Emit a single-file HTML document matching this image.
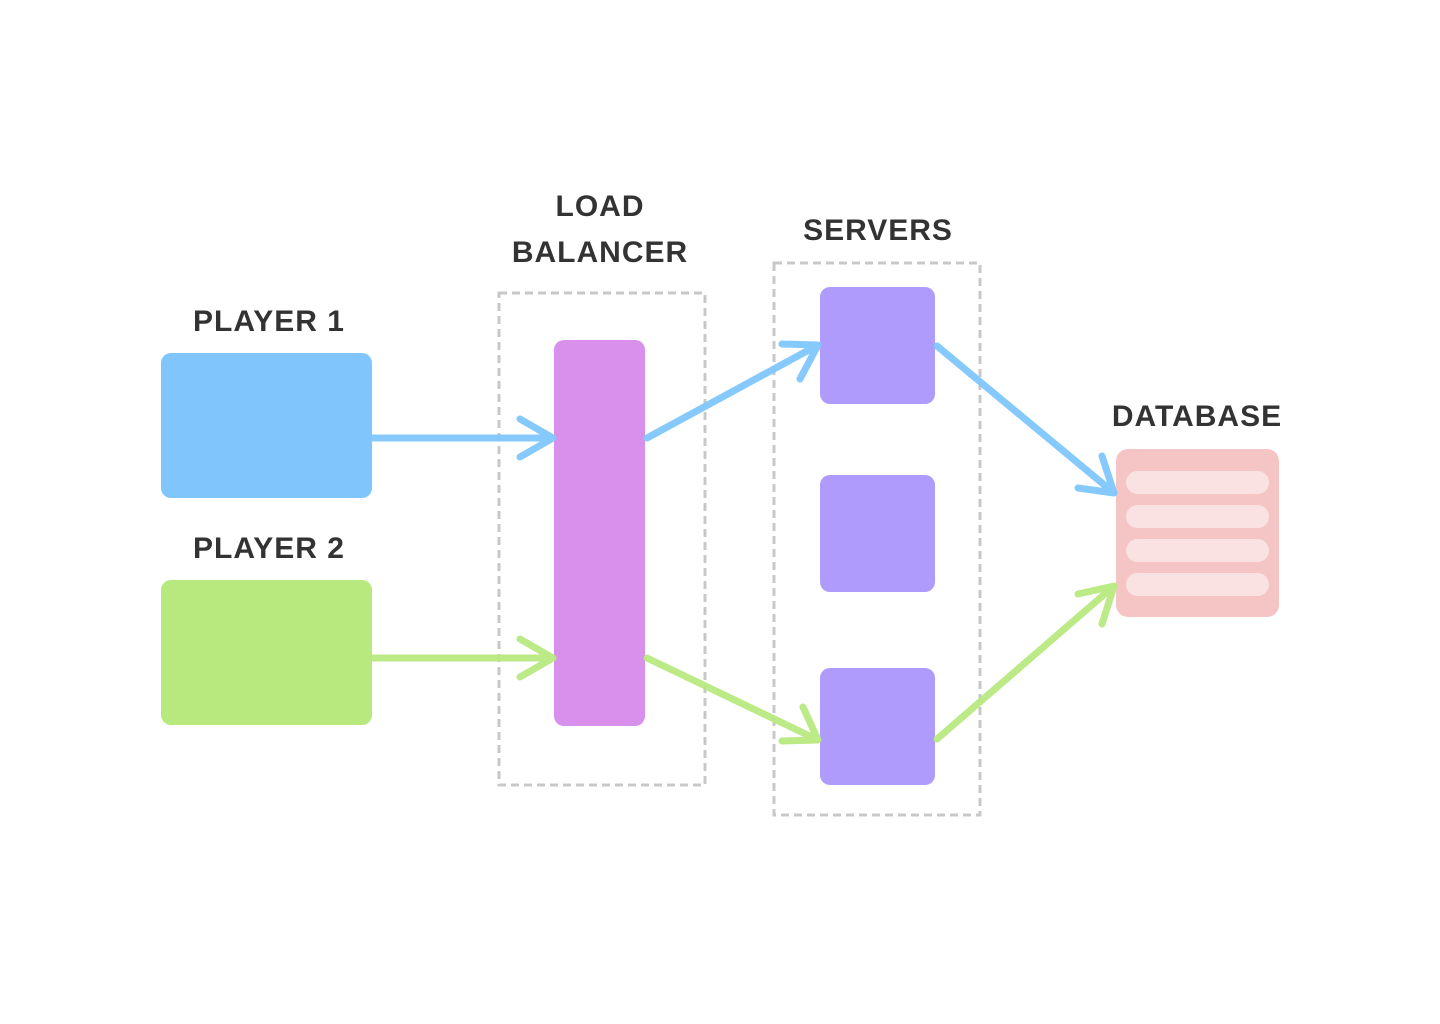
<!DOCTYPE html>
<html><head><style>
html,body{margin:0;padding:0;background:#fff;}
svg{display:block;}
text{font-family:"Liberation Sans",sans-serif;font-weight:bold;fill:#333;font-size:30px;letter-spacing:1px;}
</style></head><body>
<svg width="1440" height="1024" viewBox="0 0 1440 1024" xmlns="http://www.w3.org/2000/svg">
<rect x="499" y="293" width="206" height="492" fill="none" stroke="#c8c8c8" stroke-width="3" stroke-dasharray="8,5"/>
<rect x="774" y="263" width="206" height="552" fill="none" stroke="#c8c8c8" stroke-width="3" stroke-dasharray="8,5"/>
<text x="269" y="331" text-anchor="middle">PLAYER 1</text>
<text x="269" y="558" text-anchor="middle">PLAYER 2</text>
<text x="600" y="216" text-anchor="middle">LOAD</text>
<text x="600" y="262" text-anchor="middle">BALANCER</text>
<text x="878" y="240" text-anchor="middle">SERVERS</text>
<text x="1197" y="426" text-anchor="middle">DATABASE</text>
<rect x="161" y="353" width="211" height="145" rx="10" fill="#80c6fd"/>
<rect x="161" y="580" width="211" height="145" rx="10" fill="#b7e97f"/>
<rect x="554" y="340" width="91" height="386" rx="10" fill="#d890ec"/>
<rect x="820" y="287" width="115" height="117" rx="10" fill="#ae9bfb"/>
<rect x="820" y="475" width="115" height="117" rx="10" fill="#ae9bfb"/>
<rect x="820" y="668" width="115" height="117" rx="10" fill="#ae9bfb"/>
<rect x="1116" y="449" width="163" height="168" rx="12" fill="#f5c5c6"/>
<rect x="1126" y="471" width="143" height="23" rx="11.5" fill="#fae2e3"/>
<rect x="1126" y="505" width="143" height="23" rx="11.5" fill="#fae2e3"/>
<rect x="1126" y="539" width="143" height="23" rx="11.5" fill="#fae2e3"/>
<rect x="1126" y="573" width="143" height="23" rx="11.5" fill="#fae2e3"/>
<g fill="none" stroke-width="7" stroke-linecap="round" stroke-linejoin="round" opacity="0.95">
<g stroke="#80c6fd">
<path d="M370 438 L553 438 M520 419 L553 438 L520 457"/>
<path d="M647 438 L818 345 M782 344 L818 345 L800 379"/>
<path d="M937 346 L1114 493 M1078 488 L1114 493 L1102 456"/>
</g>
<g stroke="#b7e97f">
<path d="M370 658 L553 658 M520 639 L553 658 L520 677"/>
<path d="M647 658 L818 740 M782 741 L818 740 L803 707"/>
<path d="M937 739 L1114 586 M1078 594 L1114 586 L1102 624"/>
</g>
</g>
</svg>
</body></html>
